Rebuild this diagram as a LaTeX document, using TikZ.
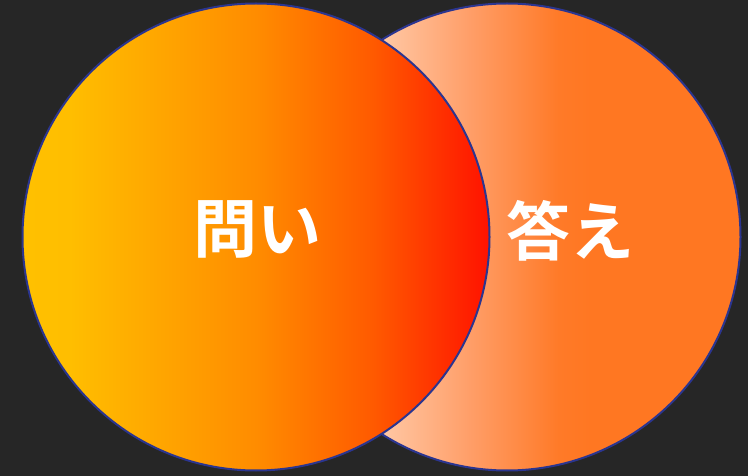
\documentclass[tikz,border=0pt]{standalone}
\usepackage{fontspec}
\newfontfamily\cjk{Noto Sans CJK JP}[BoldFont={* Bold}]
\definecolor{bgc}{HTML}{262626}
\definecolor{edgec}{HTML}{2B3590}
\definecolor{lA}{HTML}{FFC000}
\definecolor{lB}{HTML}{FFBE00}
\definecolor{lC}{HTML}{FF8C00}
\definecolor{lD}{HTML}{FF5A00}
\definecolor{lE}{HTML}{FF1200}
\definecolor{rA}{HTML}{FFE4D2}
\definecolor{rB}{HTML}{FFC8A5}
\definecolor{rC}{HTML}{FF9E68}
\definecolor{rD}{HTML}{FF7A28}
\definecolor{rE}{HTML}{FF7722}
\pgfdeclarehorizontalshading{lshade}{100bp}{color(0bp)=(lA); color(25bp)=(lA); color(30bp)=(lB); color(50bp)=(lC); color(62.5bp)=(lD); color(75bp)=(lE); color(100bp)=(lE)}
\pgfdeclarehorizontalshading{rshade}{100bp}{color(0bp)=(rA); color(25bp)=(rA); color(36.5bp)=(rB); color(46bp)=(rC); color(55.5bp)=(rD); color(59bp)=(rE); color(100bp)=(rE)}
\tikzset{
  bubble/.style={circle, minimum size=467pt, inner sep=0pt, draw=edgec, line width=2pt},
  label/.style={text=white, font=\cjk\bfseries\fontsize{64}{64}\selectfont, inner sep=0pt, anchor=base}
}
\begin{document}
\begin{tikzpicture}[x=1pt,y=-1pt]
\fill[bgc] (0,0) rectangle (748,476);
\useasboundingbox (0,0) rectangle (748,476);
\node[bubble, shading=rshade] (ans) at (507,237) {};
\node[bubble, shading=lshade] (q) at (256,237) {};
\node[label] (qt) at (257,253) {問い};
\node[label] (at) at (570,256) {答え};
\end{tikzpicture}
\end{document}
